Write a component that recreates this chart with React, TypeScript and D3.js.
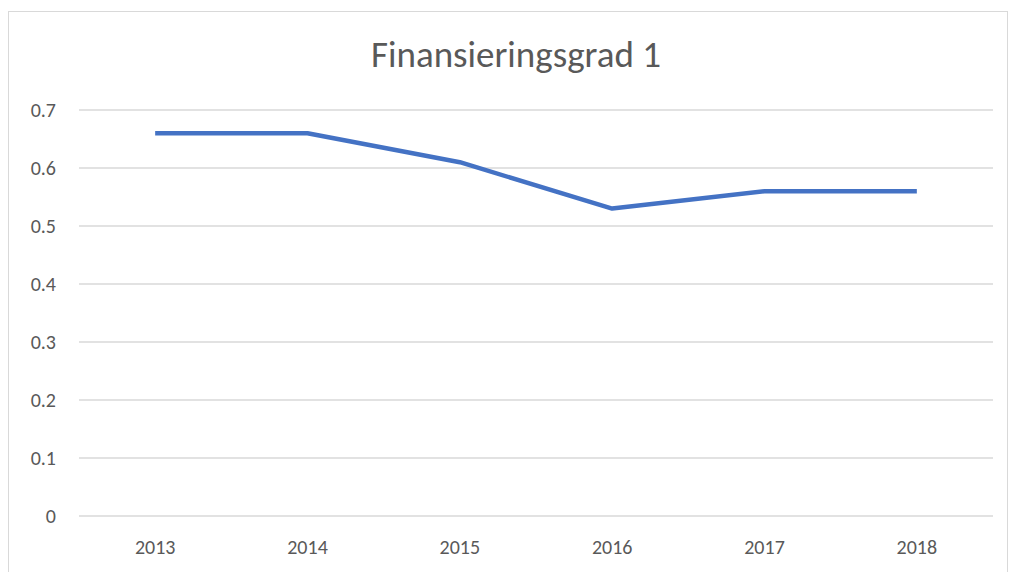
import React from 'react'
import * as d3 from 'd3'

const years = ['2013', '2014', '2015', '2016', '2017', '2018']
const values = [0.66, 0.66, 0.61, 0.53, 0.56, 0.56]
const yTicks = [0, 0.1, 0.2, 0.3, 0.4, 0.5, 0.6, 0.7]
const title = 'Finansieringsgrad 1'

const width = 1009
const height = 572
const TEXT = '#595959'
const GRID = '#d9d9d9'
const BLUE = '#4472C4'
const FONT = 'Carlito, Calibri, "Open Sans", sans-serif'

const App = () => {
  const x = d3.scaleBand().domain(years).range([79, 993])
  const y = d3.scaleLinear().domain([0, 0.7]).range([516, 110])

  const line = d3
    .line<number>()
    .x((_, i) => (x(years[i]) as number) + x.bandwidth() / 2)
    .y((d) => y(d))

  return (
    <svg
      width={width}
      height={height}
      style={{ position: 'absolute', left: 0, top: 0, background: '#fff' }}
      fontFamily={FONT}
    >
      <rect x={8.5} y={11.5} width={999} height={570} fill="#fff" stroke={GRID} />
      <text x={516} y={67} textAnchor="middle" fontSize={37} fill={TEXT}>
        {title}
      </text>
      {yTicks.map((t) => (
        <g key={t}>
          <line x1={79} x2={993} y1={y(t)} y2={y(t)} stroke={GRID} strokeWidth={1.3} />
          <text x={56} y={y(t)} dy="0.35em" textAnchor="end" fontSize={20} fill={TEXT}>
            {d3.format('')(+t.toFixed(1))}
          </text>
        </g>
      ))}
      {years.map((yr) => (
        <text
          key={yr}
          x={(x(yr) as number) + x.bandwidth() / 2}
          y={547}
          dy="0.35em"
          textAnchor="middle"
          fontSize={20}
          fill={TEXT}
        >
          {yr}
        </text>
      ))}
      <path d={line(values) as string} fill="none" stroke={BLUE} strokeWidth={4.5} strokeLinejoin="round" />
    </svg>
  )
}

export default App
